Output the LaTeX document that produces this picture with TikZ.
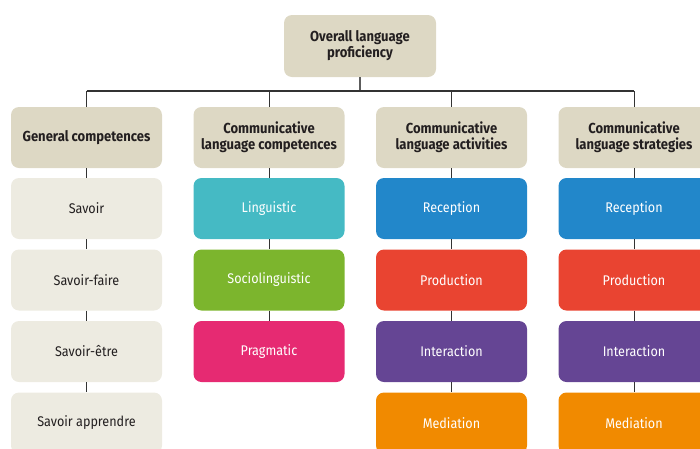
\documentclass[tikz,border=0pt]{standalone}
\usepackage{fontspec}
\setmainfont[FakeStretch=0.9]{Fira Sans}
\definecolor{hdr}{HTML}{DDD8C4}
\definecolor{lite}{HTML}{EDEBE1}
\definecolor{teal}{HTML}{45BAC4}
\definecolor{grn}{HTML}{7CB52D}
\definecolor{pnk}{HTML}{E62A72}
\definecolor{blu}{HTML}{2287CA}
\definecolor{red}{HTML}{E94431}
\definecolor{purp}{HTML}{654594}
\definecolor{orng}{HTML}{F18A00}
\definecolor{txt}{HTML}{231F20}
\definecolor{linec}{HTML}{333333}
\tikzset{
  box/.style={rectangle, rounded corners=8pt, minimum width=151pt, minimum height=61pt, inner sep=2pt, align=center, font=\fontsize{14}{16}\selectfont},
  hbox/.style={box, fill=hdr, text=txt, font=\fontsize{14.5}{16}\selectfont\bfseries},
  lbox/.style={box, fill=lite, text=txt},
  cbox/.style={box, fill=#1, text=white},
  conn/.style={draw=linec, line width=0.9pt}
}
\begin{document}
\begin{tikzpicture}[x=1pt,y=-1pt]
\useasboundingbox (0,0) rectangle (700,448);
\clip (0,0) rectangle (700,448);
\node[hbox, minimum width=152pt, minimum height=62pt] (top) at (360,46) {Overall language\\proficiency};
\coordinate (mid) at (360,91);
\coordinate (c1) at (86.5,91);
\coordinate (c2) at (269,91);
\coordinate (c3) at (451.5,91);
\coordinate (c4) at (634,91);
% column 1
\node[hbox] (h1) at (86.5,137.5) {General competences};
\node[lbox] (a1) at (86.5,208.5) {Savoir};
\node[lbox] (a2) at (86.5,280) {Savoir-faire};
\node[lbox] (a3) at (86.5,351.5) {Savoir-être};
\node[lbox] (a4) at (86.5,423) {Savoir apprendre};
% column 2
\node[hbox] (h2) at (269,137.5) {Communicative\\language competences};
\node[cbox=teal] (b1) at (269,208.5) {Linguistic};
\node[cbox=grn] (b2) at (269,280) {Sociolinguistic};
\node[cbox=pnk] (b3) at (269,351.5) {Pragmatic};
% column 3
\node[hbox] (h3) at (451.5,137.5) {Communicative\\language activities};
\node[cbox=blu] (d1) at (451.5,208.5) {Reception};
\node[cbox=red] (d2) at (451.5,280) {Production};
\node[cbox=purp] (d3) at (451.5,351.5) {Interaction};
\node[cbox=orng] (d4) at (451.5,423) {Mediation};
% column 4
\node[hbox] (h4) at (634,137.5) {Communicative\\language strategies};
\node[cbox=blu] (e1) at (634,208.5) {Reception};
\node[cbox=red] (e2) at (634,280) {Production};
\node[cbox=purp] (e3) at (634,351.5) {Interaction};
\node[cbox=orng] (e4) at (634,423) {Mediation};
% connectors
\draw[conn, draw=linec!80, line width=1.2pt] (top.south) -- (mid);
\draw[conn, line width=1.1pt] (c1) -- (c4);
\draw[conn] (c1) -- (h1.north);
\draw[conn] (c2) -- (h2.north);
\draw[conn] (c3) -- (h3.north);
\draw[conn] (c4) -- (h4.north);
\draw[conn] (h1.south) -- (a1.north) (a1.south) -- (a2.north) (a2.south) -- (a3.north) (a3.south) -- (a4.north);
\draw[conn] (h2.south) -- (b1.north) (b1.south) -- (b2.north) (b2.south) -- (b3.north);
\draw[conn] (h3.south) -- (d1.north) (d1.south) -- (d2.north) (d2.south) -- (d3.north) (d3.south) -- (d4.north);
\draw[conn] (h4.south) -- (e1.north) (e1.south) -- (e2.north) (e2.south) -- (e3.north) (e3.south) -- (e4.north);
\end{tikzpicture}
\end{document}
